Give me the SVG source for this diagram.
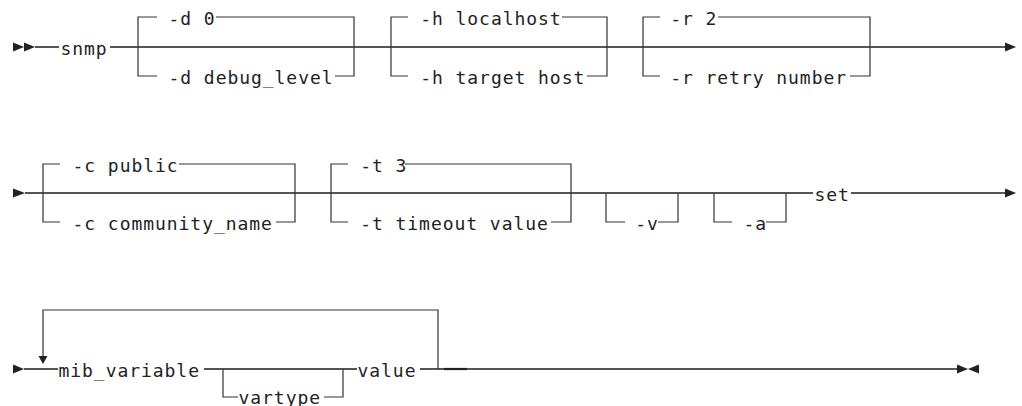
<svg xmlns="http://www.w3.org/2000/svg" width="1022" height="406" viewBox="0 0 1022 406">
<style>
.t{font-family:"DejaVu Sans Mono","Liberation Mono",monospace;font-size:18px;letter-spacing:0.95px;fill:#222}
.m{fill:none;stroke:#555;stroke-width:1.8}
.b{fill:none;stroke:#333;stroke-width:1.2}
.k{fill:none;stroke:#222;stroke-width:2.2}
.a{fill:#222;stroke:none}
</style>
<rect width="1022" height="406" fill="#fff"/>
<g id="connectors">
<polygon class="a" points="13,42.5 24,47 13,51.5"/>
<polygon class="a" points="24,42.5 35,47 24,51.5"/>
<path class="m" d="M35,47H59M110,47H1005"/>
<polygon class="a" points="1005,42.5 1016,47 1005,51.5"/>
<path class="b" d="M138,47V17H157M216,17H354V76H335M157,76H138V47"/>
<path class="b" d="M391,47V17H408M562,17H607V76H587M408,76H391V47"/>
<path class="b" d="M643,47V17H660M718,17H870V76H850M660,76H643V47"/>
<polygon class="a" points="13,188.5 25,193 13,197.5"/>
<path class="m" d="M25,193H813M851,193H1005"/>
<polygon class="a" points="1005,188.5 1016,193 1005,197.5"/>
<path class="b" d="M43,193V164H60M179,164H295V222H276M60,222H43V193"/>
<path class="b" d="M331,193V164H348M405,164H571V222H551M348,222H331V193"/>
<path class="b" d="M606,193V222H625M658,222H678V193"/>
<path class="b" d="M714,193V222H732M766,222H786V193"/>
<polygon class="a" points="13,364.5 24,369 13,373.5"/>
<path class="m" d="M24,369H58M204,369H357M420,369H444M467,369H957"/>
<path class="k" d="M444,369H467"/>
<path class="b" d="M438,369V310H43V356"/>
<polygon class="a" points="38.5,356 47.5,356 43,364"/>
<path class="b" d="M223,369V397H238M324,397H343V369"/>
<polygon class="a" points="957,364.5 968,369 957,373.5"/>
<polygon class="a" points="979,364.5 968,369 979,373.5"/>
</g>
<g id="n-snmp"><text class="t" x="60.5" y="55">snmp</text></g>
<g id="n-d0"><text class="t" x="168.5" y="25">-d 0</text></g>
<g id="n-ddebug"><text class="t" x="168.5" y="84">-d debug_level</text></g>
<g id="n-hlocal"><text class="t" x="420.2" y="25">-h localhost</text></g>
<g id="n-htarget"><text class="t" x="420.2" y="84">-h target host</text></g>
<g id="n-r2"><text class="t" x="670.2" y="25">-r 2</text></g>
<g id="n-rretry"><text class="t" x="670.2" y="84">-r retry number</text></g>
<g id="n-cpublic"><text class="t" x="72.5" y="172">-c public</text></g>
<g id="n-ccomm"><text class="t" x="72.5" y="230">-c community_name</text></g>
<g id="n-t3"><text class="t" x="360.2" y="172">-t 3</text></g>
<g id="n-ttimeout"><text class="t" x="360.2" y="230">-t timeout value</text></g>
<g id="n-v"><text class="t" x="635.2" y="230">-v</text></g>
<g id="n-a"><text class="t" x="743.5" y="230">-a</text></g>
<g id="n-set"><text class="t" x="814.5" y="201">set</text></g>
<g id="n-mib"><text class="t" x="58.5" y="377">mib_variable</text></g>
<g id="n-vartype"><text class="t" x="238.5" y="404">vartype</text></g>
<g id="n-value"><text class="t" x="357.5" y="377">value</text></g>
</svg>
